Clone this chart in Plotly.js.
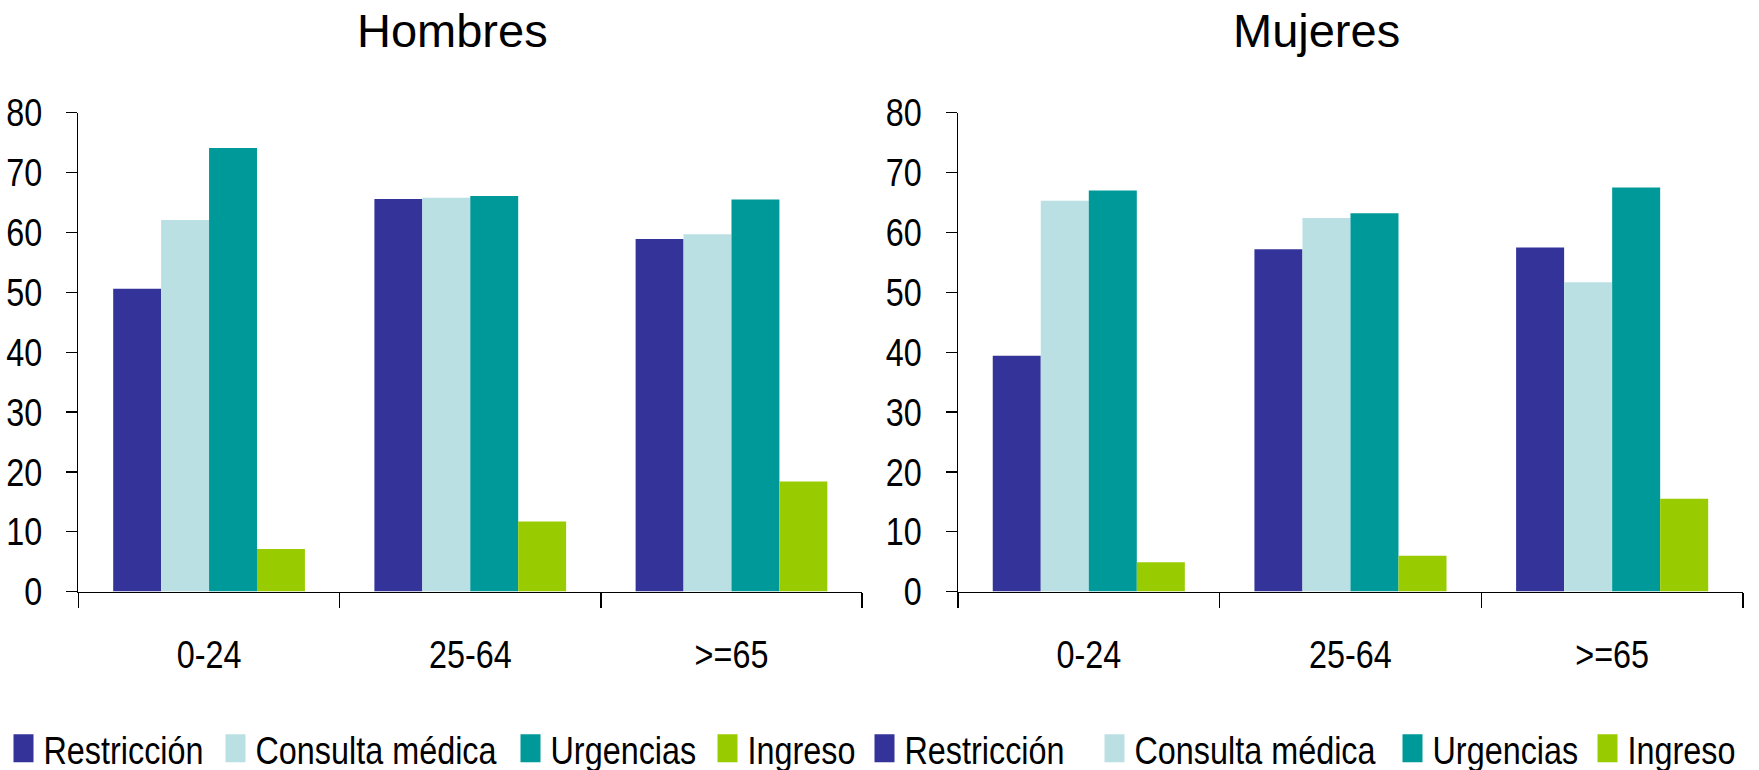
<!DOCTYPE html>
<html><head><meta charset="utf-8">
<script src="https://cdn.plot.ly/plotly-3.0.1.min.js"></script>
<style>
html,body{margin:0;padding:0;background:#fff}
#chart{width:1759px;height:770px}
</style>
</head><body><div id="chart"></div>
<script>
const categories = ['0-24', '25-64', '>=65'];
const seriesNames = ['Restricción', 'Consulta médica', 'Urgencias', 'Ingreso'];
const seriesColors = ['#333399', '#BBE0E3', '#009999', '#99CC00'];
const panelTitles = ['Hombres', 'Mujeres'];
const hombresRestriccion = [50.6, 65.6, 58.9];
const hombresConsulta = [62.1, 65.8, 59.7];
const hombresUrgencias = [74.1, 66.1, 65.5];
const hombresIngreso = [7.1, 11.7, 18.4];
const mujeresRestriccion = [39.4, 57.2, 57.5];
const mujeresConsulta = [65.3, 62.4, 51.7];
const mujeresUrgencias = [67.0, 63.2, 67.5];
const mujeresIngreso = [4.9, 6.0, 15.5];
const yTickValues = [0, 10, 20, 30, 40, 50, 60, 70, 80];

const narrow = 'Liberation Sans Narrow, Arial Narrow, Liberation Sans, Arial, sans-serif';
const regular = 'Liberation Sans, Arial, sans-serif';
const TEXT_SQUEEZE = 0.83;
const LEGEND_SYMBOL = 'M10,14H-10V-14H10Z';

const hombres = [hombresRestriccion, hombresConsulta, hombresUrgencias, hombresIngreso];
const mujeres = [mujeresRestriccion, mujeresConsulta, mujeresUrgencias, mujeresIngreso];

// legend item left positions (pixels) for the 8 legend entries
const legendX = [3.5, 215.5, 510.5, 707.5, 864.5, 1094.5, 1392.5, 1587.5];

const traces = [];
hombres.forEach((vals, i) => traces.push({
  type: 'bar', x: categories, y: vals, name: seriesNames[i],
  marker: {color: seriesColors[i], line: {width: 0}},
  xaxis: 'x', yaxis: 'y', legend: i === 0 ? 'legend' : 'legend' + (i + 1), hoverinfo: 'skip'
}));
mujeres.forEach((vals, i) => traces.push({
  type: 'bar', x: categories, y: vals, name: seriesNames[i],
  marker: {color: seriesColors[i], line: {width: 0}},
  xaxis: 'x2', yaxis: 'y2', legend: 'legend' + (i + 5), hoverinfo: 'skip'
}));

function xAxis(domain, anchor) {
  return {
    domain: domain, anchor: anchor, type: 'category', automargin: false,
    tickson: 'boundaries', ticks: 'outside', ticklen: 15, tickwidth: 1.3, tickcolor: '#000',
    showline: true, linecolor: '#000', linewidth: 1.3, showgrid: false, zeroline: false,
    ticklabelstandoff: 28,
    tickfont: {family: narrow, size: 39, color: '#000'}
  };
}
function yAxis(domain, anchor) {
  return {
    domain: domain, anchor: anchor, range: [0, 80], tickvals: yTickValues, automargin: false,
    ticks: 'outside', ticklen: 11, tickwidth: 1.3, tickcolor: '#000',
    showline: true, linecolor: '#000', linewidth: 1.3, showgrid: false, zeroline: false,
    ticklabelstandoff: 16,
    tickfont: {family: narrow, size: 39, color: '#000'}
  };
}
const yDom = [0.2317, 0.8536];

const layout = {
  width: 1759, height: 770,
  margin: {l: 0, r: 0, t: 0, b: 0, autoexpand: false},
  paper_bgcolor: '#fff', plot_bgcolor: '#fff',
  barmode: 'group', bargap: 0.266, bargroupgap: 0,
  showlegend: true,
  xaxis: xAxis([0.0446, 0.4901], 'y'),
  yaxis: yAxis(yDom, 'x'),
  xaxis2: xAxis([0.5446, 0.9909], 'y2'),
  yaxis2: yAxis(yDom, 'x2'),
  annotations: [
    {text: panelTitles[0], xref: 'paper', yref: 'paper', x: 0.257, y: 1 - 30/770,
     xanchor: 'center', yanchor: 'middle', showarrow: false,
     font: {family: regular, size: 47, color: '#000'}},
    {text: panelTitles[1], xref: 'paper', yref: 'paper', x: 0.7487, y: 1 - 30/770,
     xanchor: 'center', yanchor: 'middle', showarrow: false,
     font: {family: regular, size: 47, color: '#000'}}
  ]
};
legendX.forEach((px, k) => {
  const key = k === 0 ? 'legend' : 'legend' + (k + 1);
  layout[key] = {
    orientation: 'h', xanchor: 'left', yanchor: 'middle', x: px / 1759, y: 0.028,
    font: {family: narrow, size: 39, color: '#000'},
    bgcolor: 'rgba(0,0,0,0)', borderwidth: 0, itemclick: false, itemdoubleclick: false
  };
});

const SQUEEZE_RE = /\s*translate\([^)]*\)\s*scale\([^)]*\)\s*$/;
function squeezeText(root) {
  const sel = '.xaxislayer-above text, .yaxislayer-above text, .infolayer text[class^="legend"]';
  root.querySelectorAll(sel).forEach(t => {
    const cls = t.getAttribute('class') || '';
    if (cls.indexOf('legend') === 0 && !/text$/.test(cls)) return;
    const cur = t.getAttribute('transform') || '';
    const x = parseFloat(t.getAttribute('x')) || 0;
    const want = 'translate(' + (x * (1 - TEXT_SQUEEZE)).toFixed(3) + ',0) scale(' + TEXT_SQUEEZE + ',1)';
    const base = cur.replace(SQUEEZE_RE, '');
    const next = (base ? base + ' ' : '') + want;
    if (cur !== next) t.setAttribute('transform', next);
  });
  root.querySelectorAll('.infolayer .legendpoints path').forEach(p => {
    if (p.getAttribute('d') !== LEGEND_SYMBOL) p.setAttribute('d', LEGEND_SYMBOL);
  });
}

const gdEl = document.getElementById('chart');
const observer = new MutationObserver(() => squeezeText(gdEl));
observer.observe(gdEl, {childList: true, subtree: true, attributes: true,
                        attributeFilter: ['transform', 'x', 'd']});
Plotly.newPlot(gdEl, traces, layout, {staticPlot: true, displayModeBar: false})
  .then(gd => {
    squeezeText(gd);
    gd.on('plotly_afterplot', () => squeezeText(gd));
  });
</script>
</body></html>
